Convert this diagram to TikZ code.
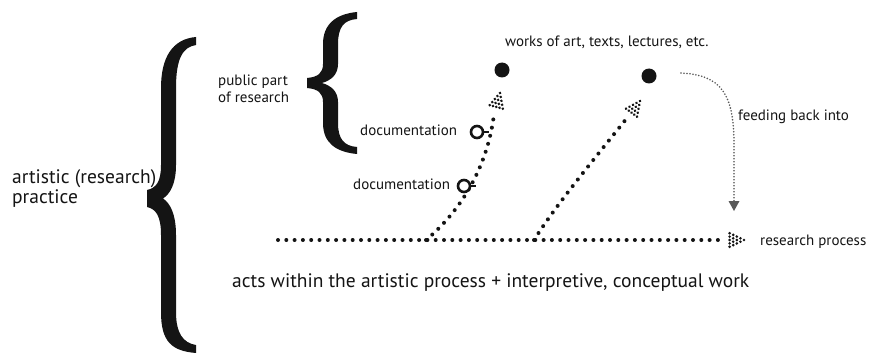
\documentclass[tikz,border=0pt]{standalone}
\usepackage{fontspec}
\setmainfont{PT Sans}
\definecolor{ink}{HTML}{141414}
\tikzset{
  txt/.style={inner sep=0pt, anchor=west, text=ink},
  bigtxt/.style={txt, font=\fontsize{19.5}{20}\selectfont},
  smalltxt/.style={txt, font=\fontsize{15}{17.5}\selectfont},
  dotline/.style={draw=ink, line width=4pt, line cap=round, dash pattern=on 0pt off 8.3pt},
  fineline/.style={draw=black!65, line width=1.8pt, line cap=round, dash pattern=on 0pt off 3pt},
  workdot/.style={circle, fill=ink, minimum size=15pt, inner sep=0pt},
  docring/.style={circle, draw=ink, line width=2.6pt, minimum size=12pt, inner sep=0pt, fill=white},
  pics/dothead/.style={code={
    \foreach \r in {0,...,4}{
      \foreach \k in {0,...,\r}{
        \fill[ink] ({-\r*3.6}, {\k*3.4-\r*1.7}) circle (1.45pt);
      }
    }
  }}
}
\begin{document}
\begin{tikzpicture}[x=1pt,y=-1pt]
\useasboundingbox[fill=white] (0,0) rectangle (871,353);

% big brace
\fill[ink] (196,37) .. controls (172,39) and (161,58) .. (161,88) -- (161,165)
  .. controls (161,182) and (156,188) .. (147,190) -- (147,207)
  .. controls (156,209) and (161,216) .. (161,235) -- (161,312)
  .. controls (161,342) and (172,351) .. (196,353)
  -- (196,345) .. controls (183,343) and (176,333) .. (176,312) -- (176,235)
  .. controls (176,214) and (170,203) .. (163,198.5)
  .. controls (170,194) and (176,184) .. (176,165) -- (176,88)
  .. controls (176,58) and (183,47) .. (196,45) -- cycle;

% small brace
\fill[ink] (357,12) .. controls (336,14) and (323,24) .. (323,44) -- (323,64)
  .. controls (323,73) and (318,77) .. (307,78) -- (307,88)
  .. controls (318,89) and (323,93) .. (323,102) -- (323,123)
  .. controls (323,143) and (336,152) .. (357,154)
  -- (357,147) .. controls (344,146) and (338,139) .. (338,123) -- (338,102)
  .. controls (338,92) and (332,86) .. (322,83)
  .. controls (332,80) and (338,74) .. (338,64) -- (338,44)
  .. controls (338,27) and (344,20) .. (357,19) -- cycle;

% texts
\node[bigtxt, align=left] (art) at (12,189) {artistic (research)\\practice};
\node[smalltxt, align=left] (pub) at (218,89) {public part\\of research};
\node[smalltxt] (works) at (505,42) {works of art, texts, lectures, etc.};
\node[smalltxt] (doc1lbl) at (360,130) {documentation};
\node[smalltxt] (doc2lbl) at (353,184) {documentation};
\node[smalltxt] (feed) at (738,117) {feeding back into};
\node[smalltxt] (rp) at (760,242) {research process};
\node[bigtxt] (acts) at (232,283) {acts within the artistic process + interpretive, conceptual work};

% work dots
\node[workdot] (w1) at (502,70) {};
\node[workdot] (w2) at (649,76) {};

% coordinates
\coordinate (start) at (278,240);
\coordinate (hend) at (722,240);
\coordinate (htip) at (744,240);
\coordinate (s1) at (426,240);
\coordinate (a1end) at (494,114);
\coordinate (a1tip) at (500,93);
\coordinate (s2) at (534,240);
\coordinate (a2end) at (627,118);
\coordinate (a2tip) at (640,101);
\coordinate (fbstart) at (681,73);
\coordinate (fbend) at (734,201);

% horizontal research process
\draw[dotline] (start) -- (hend);
\pic at (htip) {dothead};

% arrow 1
\draw[dotline] (s1) .. controls (462,210) and (488,165) .. (a1end);
\pic[rotate=75] at (a1tip) {dothead};

% arrow 2
\draw[dotline] (s2) .. controls (556,205) and (595,158) .. (a2end);
\pic[rotate=54] at (a2tip) {dothead};

% documentation rings
\node[docring] (d1) at (477,132) {};
\node[docring] (d2) at (464,186) {};
\draw[ink, line width=2.4pt] (d1.east) -- ++(5,0);
\draw[ink, line width=2.4pt] (d2.east) -- ++(5,0);

% feeding back
\draw[fineline] (fbstart) .. controls (722,75) and (733,95) .. (734,140) -- (fbend);
\fill[black!65] (728.5,201) -- (739.5,201) -- (734,211) -- cycle;
\end{tikzpicture}
\end{document}
